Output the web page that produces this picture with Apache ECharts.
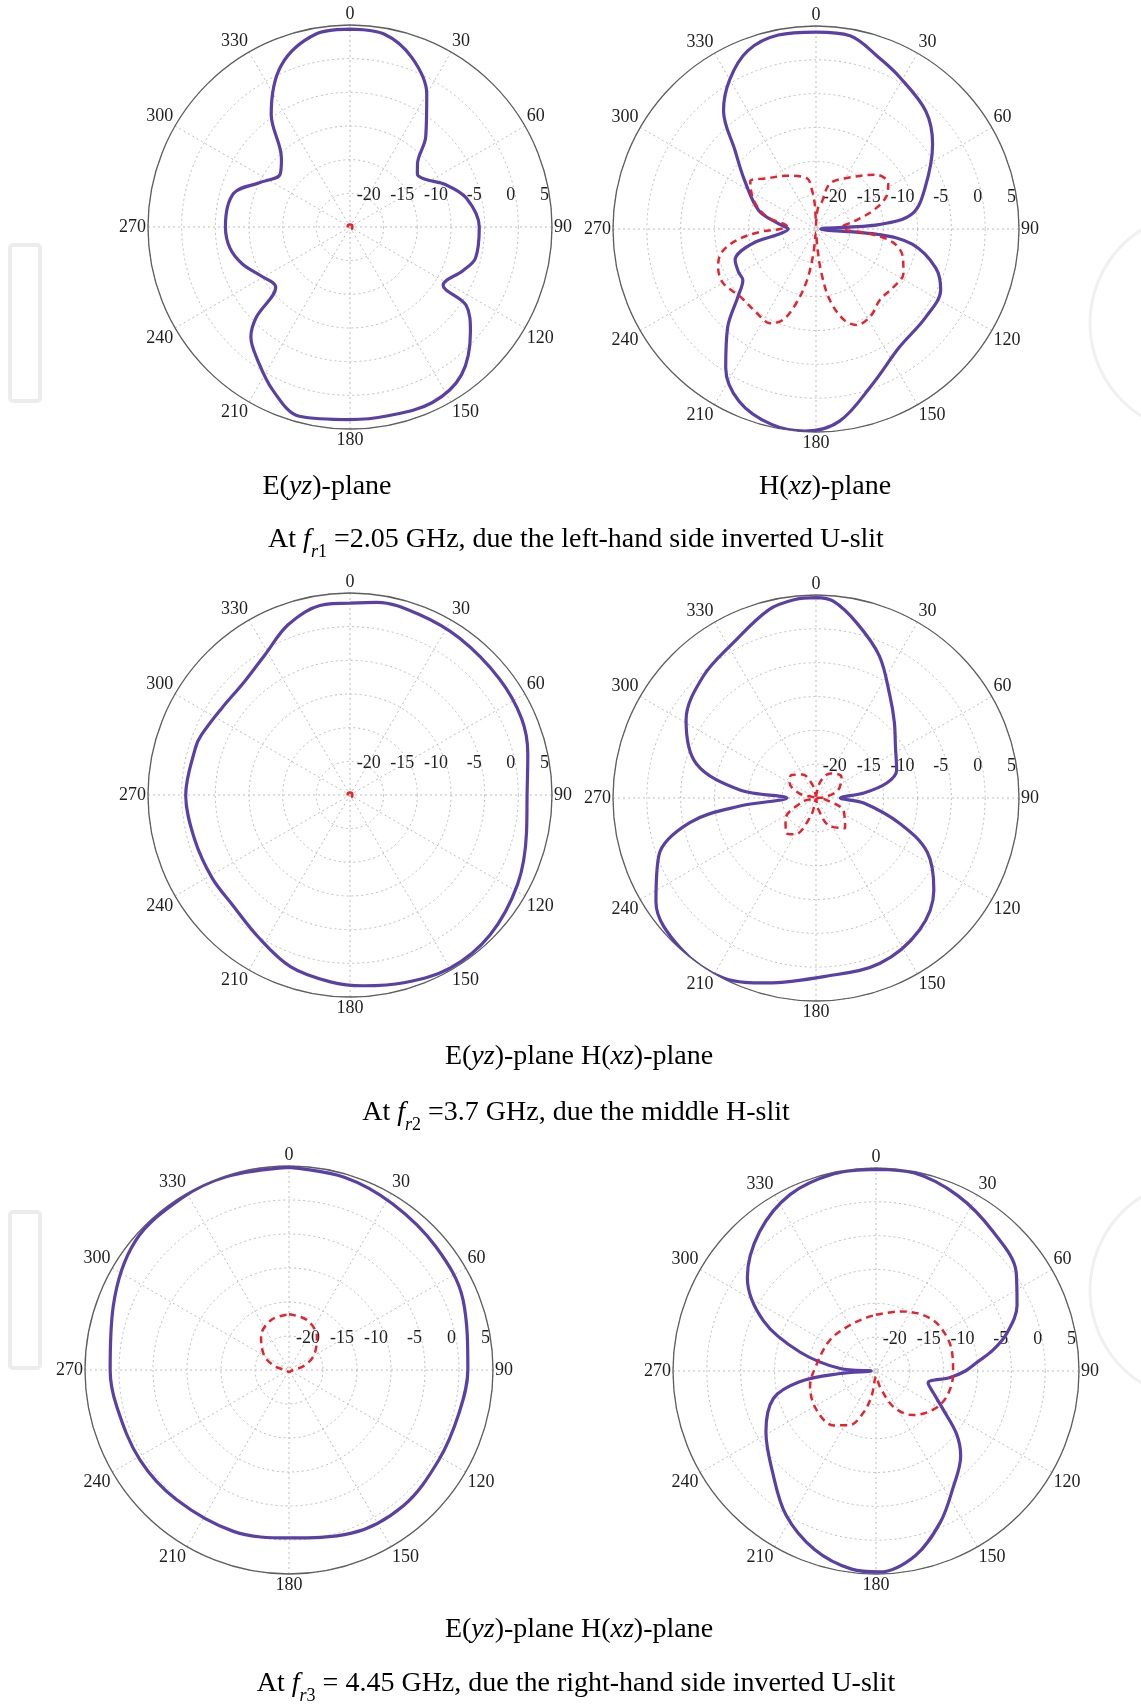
<!DOCTYPE html>
<html>
<head>
<meta charset="utf-8">
<title>Radiation patterns</title>
<script src="https://cdn.jsdelivr.net/npm/echarts@6/dist/echarts.min.js"></script>
<style>
  html, body { margin: 0; padding: 0; background: #fff; }
  #chart { width: 1141px; height: 1704px; }
</style>
</head>
<body>
<div id="chart"></div>
<script>
// angles in degrees (0 = top, clockwise), levels in dB
// fr1 = 2.05 GHz, E(yz)-plane
const fr1E_ang = [0, 10, 20, 30, 40, 47, 52, 58, 66, 76, 90, 104, 111, 122, 124, 131, 143, 155, 169, 180, 195, 205, 215, 222, 226, 231, 242, 251, 260, 270, 286, 296, 307, 315, 325, 337, 350];
const fr1E_co = [4.4, 4.1, 1.8, -2.2, -7.5, -11.3, -12.3, -11.7, -9.5, -7.2, -5.8, -5.8, -7.0, -8.7, -4.2, -1.3, 2.5, 3.8, 3.6, 3.6, 4.1, 1.9, -1.0, -3.0, -5.6, -10.8, -9.8, -8.1, -6.9, -6.5, -7.0, -10.0, -12.0, -10.6, -4.6, 1.1, 4.1];
// fr1, H(xz)-plane
const fr1H_ang = [0, 10, 20, 29, 43, 54, 69, 81, 86, 90, 95, 99, 108, 116, 129, 145, 160, 173, 183, 193, 204, 213, 222, 229, 235, 241, 249, 257, 262, 270, 278, 288, 304, 314, 322, 330, 339, 349];
const fr1H_co = [4.1, 4.0, 2.0, 0.6, -1.2, -3.7, -7.7, -10.6, -15.7, -24.3, -15.7, -10.6, -6.4, -4.5, -4.2, -3.6, -0.6, 3.6, 4.9, 4.6, 2.9, -0.5, -5.5, -9.7, -11.8, -11.9, -12.2, -15.3, -19.4, -20.9, -19.4, -16.1, -12.3, -8.4, -2.8, 0.5, 3.2, 4.2];
const fr1H_xang = [0, 5, 12, 17, 31, 48, 58, 65, 72, 79, 85, 90, 95, 100, 108, 117, 127, 138, 148, 157, 163, 169, 173, 176, 180, 186, 190, 195, 200, 206, 215, 228, 240, 249, 256, 262, 267, 270, 275, 284, 295, 306, 316, 331, 350, 354, 357];
const fr1H_x = [-24.5, -22, -21, -18, -16.2, -13, -12.4, -13.5, -16.1, -19.4, -21, -21, -17, -13.4, -11.5, -10.5, -10.7, -10.9, -9.8, -9.6, -11, -14.3, -18.4, -22.4, -24.5, -21.4, -17.3, -13.6, -10.7, -9.5, -9.8, -10, -9.1, -9.5, -10.6, -13.2, -16.7, -19.7, -20.7, -17.5, -14.8, -13, -14.6, -16, -17.4, -19.2, -21.2];

// fr2 = 3.7 GHz, E(yz)-plane
const fr2E_ang = [0, 8, 21, 35, 52, 66, 77, 90, 102, 118, 135, 150, 164, 176, 186, 199, 213, 227, 239, 254, 270, 287, 292, 304, 317, 329, 340, 351];
const fr2E_co = [3.5, 3.9, 3.7, 3.4, 3.1, 2.9, 2.1, 1.3, 1.8, 3.2, 4.4, 4.7, 4.0, 3.4, 2.9, 2.0, 0.1, -1.1, -1.1, -1.0, -0.6, -1.0, -1.2, -2.0, -2.0, -0.6, 1.9, 3.5];
// fr2, H(xz)-plane
const fr2H_ang = [0, 5, 13, 24, 36, 46, 57, 71, 78, 84, 90, 96, 107, 116, 128, 142, 159, 177, 195, 207, 222, 237, 250, 259, 264, 270, 276, 286, 301, 317, 332, 346, 354];
const fr2H_co = [4.6, 4.2, 1.6, -2.0, -6.4, -8.9, -11.0, -12.4, -14.3, -17.9, -21.4, -17.9, -12.0, -6.7, -2.9, -0.2, 1.2, 1.4, 3.3, 4.9, 4.9, 3.2, -0.3, -6.0, -13.7, -20.7, -13.7, -6.6, -2.6, -0.5, 1.0, 3.7, 4.5];
const fr2H_xang = [0, 15, 30, 50, 70, 85, 90, 100, 115, 136, 155, 170, 180, 195, 210, 220, 235, 255, 270, 285, 300, 313, 330, 345];
const fr2H_x = [-24.8, -22.5, -20.8, -20.1, -21.5, -23.8, -24.8, -23.5, -20.5, -18.8, -20.5, -23.5, -24.8, -22.5, -18.8, -18.2, -19.5, -23, -24.8, -22.5, -20.5, -20, -21, -23];

// fr3 = 4.45 GHz, E(yz)-plane
const fr3E_ang = [0, 16, 32, 50, 68, 90, 104, 121, 140, 159, 180, 199, 221, 239, 258, 270, 290, 310, 328, 342];
const fr3E_co = [4.8, 4.5, 3.8, 3.2, 2.6, 1.3, 0.8, 0.7, 1.1, 0.7, -0.3, 0.1, 0.25, 0.6, 0.9, 1.3, 2.5, 4.5, 4.8, 4.9];
const fr3E_xang = [0, 20, 40, 60, 75, 90, 120, 180, 240, 270, 285, 300, 320, 340];
const fr3E_x = [-16.8, -17.2, -18.6, -20.8, -22.8, -24.4, -24.7, -24.7, -24.7, -24.4, -22.8, -20.8, -18.6, -17.2];
// fr3, H(xz)-plane
const fr3H_ang = [0, 11, 25, 40, 55, 65, 74, 80, 85, 90, 95, 103, 111, 120, 128, 135, 147, 157, 168, 179, 187, 199, 212, 226, 241, 255, 262, 266, 270, 274, 284, 294, 306, 320, 334, 348];
const fr3H_co = [4.8, 4.8, 3.6, 1.9, 0.3, -2.0, -4.9, -7.5, -10.0, -11.8, -14.0, -17.1, -15.9, -13.5, -9.9, -7.3, -4.2, -0.7, 2.9, 4.7, 4.5, 2.9, 0.1, -3.7, -6.4, -9.3, -13.6, -19.7, -24.3, -19.7, -13.4, -6.8, -1.5, 1.8, 4.0, 4.8];
const fr3H_xang = [0, 22, 40, 55, 75, 92, 110, 124, 140, 154, 166, 178, 190, 197, 206, 218, 237, 257, 277, 304, 330, 350];
const fr3H_x = [-16.7, -15.5, -14.2, -13.5, -13.4, -13.6, -13.9, -14.8, -16.5, -19.1, -22.6, -24.2, -21.2, -18.5, -16.1, -14.8, -14.5, -15.0, -16.2, -16.8, -17.2, -17.0];

// cross-pol collapsed at the centre of the E-plane plots at fr1 / fr2
const dot_ang = [0, 60, 120, 180, 240, 300];
const dot_x = [-24.6, -24.6, -24.6, -24.6, -24.6, -24.6];

// axis ticks
const rMin = -25, rMax = 5, rStep = 5;
const angStep = 30;

const FONT = "'Liberation Serif', 'DejaVu Serif', serif";
const PURPLE = "#5a3fa6";
const RED = "#e8222b";

const plots = [
  { center: [350, 227], radius: 202, co: [fr1E_ang, fr1E_co], x: [dot_ang, dot_x] },
  { center: [816, 229], radius: 203, co: [fr1H_ang, fr1H_co], x: [fr1H_xang, fr1H_x] },
  { center: [350, 795], radius: 202, co: [fr2E_ang, fr2E_co], x: [dot_ang, dot_x] },
  { center: [816, 798], radius: 203, co: [fr2H_ang, fr2H_co], x: [fr2H_xang, fr2H_x] },
  { center: [289, 1370], radius: 204, co: [fr3E_ang, fr3E_co], x: [fr3E_xang, fr3E_x] },
  { center: [876, 1371], radius: 203, co: [fr3H_ang, fr3H_co], x: [fr3H_xang, fr3H_x] },
];

// the angle axis runs 90..450 from the 3 o'clock position so the radius labels sit on the 90 deg line
const toAxis = (a) => (a < 90 ? a + 360 : a);
const pattern = (ang, val) => {
  const pts = ang.map((a, i) => [val[i], toAxis(a)]);
  pts.push(pts[0]);
  return pts;
};

const init = () => {
  const myChart = echarts.init(document.getElementById("chart"), null, { renderer: "canvas" });

  const polar = [], angleAxis = [], radiusAxis = [], series = [];
  plots.forEach((p, i) => {
    polar.push({ center: p.center, radius: p.radius });
    angleAxis.push({
      polarIndex: i,
      type: "value",
      min: 90,
      max: 450,
      interval: angStep,
      startAngle: 0,
      clockwise: true,
      axisLine: { lineStyle: { color: "#5e5e5e", width: 1.3 } },
      axisTick: { show: false },
      axisLabel: {
        formatter: (v) => String(v % 360),
        fontFamily: FONT,
        fontSize: 18,
        color: "#1e1e1e",
        margin: 2,
      },
      splitLine: { lineStyle: { type: [2, 3], color: "#bdbdbd", width: 1 } },
    });
    radiusAxis.push({
      polarIndex: i,
      type: "value",
      min: rMin,
      max: rMax,
      interval: rStep,
      axisLine: { show: false },
      axisTick: { show: false },
      axisLabel: {
        showMinLabel: false,
        fontFamily: FONT,
        fontSize: 18,
        color: "#1e1e1e",
        margin: 23,
        align: "right",
        padding: [0, 3, 0, 0],
      },
      splitLine: { lineStyle: { type: [2, 3], color: "#bdbdbd", width: 1 } },
    });
    series.push({
      type: "line",
      coordinateSystem: "polar",
      polarIndex: i,
      data: pattern(p.co[0], p.co[1]),
      smooth: 0.35,
      showSymbol: false,
      lineStyle: { color: PURPLE, width: 3.2 },
      z: 3,
    });
    series.push({
      type: "line",
      coordinateSystem: "polar",
      polarIndex: i,
      data: pattern(p.x[0], p.x[1]),
      smooth: 0.35,
      showSymbol: false,
      lineStyle: { color: RED, width: 2.5, type: [7, 5] },
      z: 4,
    });
  });

  const rich = {
    n: { fontFamily: FONT, fontSize: 28, color: "#1a1a1a" },
    i: { fontFamily: FONT, fontSize: 28, fontStyle: "italic", color: "#1a1a1a" },
    si: { fontFamily: FONT, fontSize: 18, fontStyle: "italic", color: "#1a1a1a", verticalAlign: "bottom", lineHeight: 42 },
    s: { fontFamily: FONT, fontSize: 18, color: "#1a1a1a", verticalAlign: "bottom", lineHeight: 42 },
  };
  const caption = (x, y, text) => ({
    type: "text",
    x: x,
    y: y,
    style: { text: text, rich: rich, align: "center", verticalAlign: "middle" },
  });
  // faint page watermark at the left and right edges
  const mark = (y) => [
    { type: "rect", shape: { x: 10, y: y, width: 30, height: 156, r: 3 }, style: { fill: "none", stroke: "#ececec", lineWidth: 4 } },
    { type: "arc", shape: { cx: 1200, cy: y + 78, r: 110, startAngle: Math.PI * 0.65, endAngle: Math.PI * 1.35 }, style: { fill: "none", stroke: "#f0f0f0", lineWidth: 3 } },
  ];

  const option = {
    backgroundColor: "#fff",
    animation: false,
    polar: polar,
    angleAxis: angleAxis,
    radiusAxis: radiusAxis,
    series: series,
    graphic: [].concat(mark(245), mark(1212), [
      caption(327, 487, "{n|E(}{i|yz}{n|)-plane}"),
      caption(825, 487, "{n|H(}{i|xz}{n|)-plane}"),
      caption(576, 540, "{n|At }{i|f}{si|r}{s|1}{n| =2.05 GHz, due the left-hand side inverted U-slit}"),
      caption(579, 1057, "{n|E(}{i|yz}{n|)-plane H(}{i|xz}{n|)-plane}"),
      caption(576, 1113, "{n|At }{i|f}{si|r}{s|2}{n| =3.7 GHz, due the middle H-slit}"),
      caption(579, 1630, "{n|E(}{i|yz}{n|)-plane H(}{i|xz}{n|)-plane}"),
      caption(576, 1684, "{n|At }{i|f}{si|r}{s|3}{n| = 4.45 GHz, due the right-hand side inverted U-slit}"),
    ]),
  };

  myChart.setOption(option);
};

init();
</script>
</body>
</html>
